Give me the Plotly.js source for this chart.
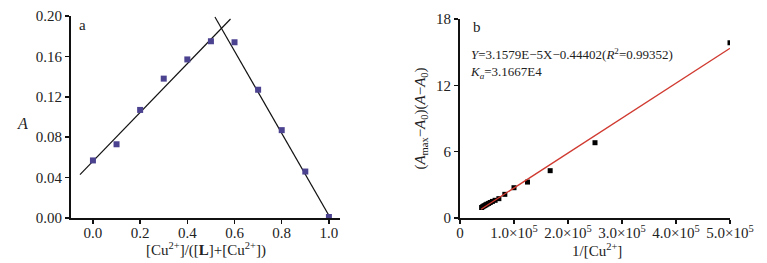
<!DOCTYPE html>
<html>
<head>
<meta charset="utf-8">
<script src="https://cdn.plot.ly/plotly-3.0.1.min.js"></script>
<style>html,body{margin:0;padding:0;background:#fff;}#chart{width:767px;height:263px;}</style>
</head>
<body>
<div id="chart"></div>
<script>
// Panel a: Job's plot
const aX = [0.0, 0.1, 0.2, 0.3, 0.4, 0.5, 0.6, 0.7, 0.8, 0.9, 1.0];
const aY = [0.057, 0.073, 0.107, 0.138, 0.157, 0.175, 0.174, 0.127, 0.087, 0.046, 0.001];
const aFit1X = [-0.055, 0.583];
const aFit1Y = [0.043, 0.197];
const aFit2X = [0.517, 1.011];
const aFit2Y = [0.199, -0.002];
const aXTicks = [0.0, 0.2, 0.4, 0.6, 0.8, 1.0];
const aYTicks = [0.00, 0.04, 0.08, 0.12, 0.16, 0.20];

// Panel b: Benesi-Hildebrand style plot
const bX = [40000, 42000, 44000, 46000, 48000, 50000, 53000, 56000, 60000, 65000, 72000, 83000, 100000, 125000, 167000, 250000, 500000];
const bY = [0.95, 1.02, 1.08, 1.13, 1.20, 1.25, 1.32, 1.40, 1.50, 1.60, 1.75, 2.14, 2.74, 3.25, 4.28, 6.81, 15.85];
const bSlope = 3.1579e-5;
const bIntercept = -0.44402;
const bFitX = [39000, 500000];
const bFitY = bFitX.map(x => bSlope * x + bIntercept);
const bXTicks = [0, 100000, 200000, 300000, 400000, 500000];
const bXTickText = ['0', '1.0×10<sup>5</sup>', '2.0×10<sup>5</sup>', '3.0×10<sup>5</sup>', '4.0×10<sup>5</sup>', '5.0×10<sup>5</sup>'];
const bYTicks = [0, 6, 12, 18];

const serif = 'Liberation Serif, Times New Roman, serif';
const txt = '#222';

const traces = [
  {x: aFit1X, y: aFit1Y, mode: 'lines', line: {color: '#111', width: 1.2}, xaxis: 'x', yaxis: 'y', hoverinfo: 'skip'},
  {x: aFit2X, y: aFit2Y, mode: 'lines', line: {color: '#111', width: 1.2}, xaxis: 'x', yaxis: 'y', hoverinfo: 'skip'},
  {x: aX, y: aY, mode: 'markers', marker: {symbol: 'square', size: 6, color: '#4b4290'}, xaxis: 'x', yaxis: 'y', cliponaxis: false},
  {x: bX, y: bY, mode: 'markers', marker: {symbol: 'square', size: 5, color: '#000'}, xaxis: 'x2', yaxis: 'y2'},
  {x: bFitX, y: bFitY, mode: 'lines', line: {color: '#d03a30', width: 1.3}, xaxis: 'x2', yaxis: 'y2', hoverinfo: 'skip'}
];

const axBase = {
  showgrid: false, zeroline: false, showline: true, linecolor: '#111', linewidth: 2,
  ticks: 'outside', ticklen: 4, tickwidth: 1.5, tickcolor: '#111',
  tickfont: {family: serif, size: 15, color: txt}, automargin: false
};

const layout = {
  width: 767, height: 263,
  margin: {l: 0, r: 0, t: 0, b: 0},
  paper_bgcolor: '#fff', plot_bgcolor: '#fff',
  showlegend: false,
  font: {family: serif, color: txt},
  xaxis: Object.assign({}, axBase, {
    domain: [71/767, 340/767], range: [-0.093, 1.047],
    tickvals: aXTicks, tickformat: '.1f', anchor: 'y', ticklabelstandoff: -4
  }),
  yaxis: Object.assign({}, axBase, {
    domain: [1 - 218/263, 1 - 16/263], range: [0, 0.2],
    tickvals: aYTicks, tickformat: '.2f', anchor: 'x'
  }),
  xaxis2: Object.assign({}, axBase, {
    domain: [460/767, 730/767], range: [0, 500000],
    tickvals: bXTicks, ticktext: bXTickText, anchor: 'y2', ticklabelstandoff: -4
  }),
  yaxis2: Object.assign({}, axBase, {
    domain: [1 - 218/263, 1 - 19/263], range: [0, 18],
    tickvals: bYTicks, anchor: 'x2',
    title: {text: '(<i>A</i><sub>max</sub>−<i>A</i><sub>0</sub>)(<i>A</i>−<i>A</i><sub>0</sub>)', font: {family: serif, size: 15, color: txt}, standoff: 7}
  }),
  annotations: [
    {xref: 'paper', yref: 'paper', x: 206/767, y: 1 - 249/263, xanchor: 'center', yanchor: 'middle', text: '[Cu<sup>2+</sup>]/([<b>L</b>]+[Cu<sup>2+</sup>])', showarrow: false, font: {family: serif, size: 15, color: txt}},
    {xref: 'paper', yref: 'paper', x: 597/767, y: 1 - 250/263, xanchor: 'center', yanchor: 'middle', text: '1/[Cu<sup>2+</sup>]', showarrow: false, font: {family: serif, size: 15, color: txt}},
    {xref: 'paper', yref: 'paper', x: 22/767, y: 1 - 123/263, xanchor: 'center', yanchor: 'middle', text: '<i>A</i>', showarrow: false, font: {family: serif, size: 16, color: txt}},
    {xref: 'paper', yref: 'paper', x: 82/767, y: 1 - 25/263, xanchor: 'center', yanchor: 'middle', text: 'a', showarrow: false, font: {family: serif, size: 15, color: txt}},
    {xref: 'paper', yref: 'paper', x: 477/767, y: 1 - 27/263, xanchor: 'center', yanchor: 'middle', text: 'b', showarrow: false, font: {family: serif, size: 15, color: txt}},
    {xref: 'paper', yref: 'paper', x: 468/767, y: 1 - 64/263, xanchor: 'left', yanchor: 'middle', align: 'left', text: '<i>Y</i>=3.1579E−5X−0.44402(<i>R</i><sup>2</sup>=0.99352)<br><i>K</i><sub><i>a</i></sub>=3.1667E4', showarrow: false, font: {family: serif, size: 13, color: txt}}
  ]
};

Plotly.newPlot('chart', traces, layout, {displayModeBar: false, staticPlot: true});
</script>
</body>
</html>
